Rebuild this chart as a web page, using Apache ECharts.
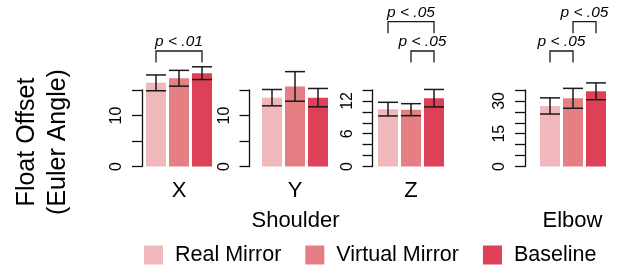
<!DOCTYPE html>
<html>
<head>
<meta charset="utf-8">
<script src="https://cdn.jsdelivr.net/npm/echarts@6/dist/echarts.min.js"></script>
<style>html,body{margin:0;padding:0;background:#fff;}#c{width:618px;height:269px;}</style>
</head>
<body>
<div id="c"></div>
<script>
// ---- data ----
const conditions = ['Real Mirror', 'Virtual Mirror', 'Baseline'];
const panels = ['X', 'Y', 'Z', ''];
const groupLabels = ['Shoulder', 'Elbow'];
const meansX = [16.4, 17.3, 18.3];
const errX   = [1.55, 1.55, 1.25];
const meansY = [13.5, 15.7, 13.5];
const errY   = [1.6, 2.9, 1.8];
const meansZ = [10.5, 10.4, 12.5];
const errZ   = [1.25, 1.1, 1.6];
const meansE = [27.7, 31.2, 34.4];
const errE   = [3.7, 4.55, 3.85];
const axisMax = [15, 15, 14, 35];
const axisStep = [5, 5, 2, 5];
const tickLabelsX = [0, 10];
const tickLabelsY = [0, 10];
const tickLabelsZ = [0, 6, 12];
const tickLabelsE = [0, 15, 30];
// significance brackets: [fromIndex, toIndex, level]
const sigX = [[0, 2, 1]];
const sigXText = ['p < .01'];
const sigY = [];
const sigYText = [];
const sigZ = [[0, 2, 2], [1, 2, 1]];
const sigZText = ['p < .05', 'p < .05'];
const sigE = [[0, 1, 1], [1, 2, 2]];
const sigEText = ['p < .05', 'p < .05'];

// ---- layout / style ----
const colors = ['#F0B8BB', '#E67F84', '#DE4058'];
const FONT = 'Liberation Sans, Arial, sans-serif';
const gridLefts = [144.5, 260.5, 376.5, 538.5];
const axisOffsets = [2.5, 11, 4, 13.5];
const GRID_TOP = 90, GRID_H = 76.5, BAND = 23;
const means = [meansX, meansY, meansZ, meansE];
const errs = [errX, errY, errZ, errE];
const tickLabels = [tickLabelsX, tickLabelsY, tickLabelsZ, tickLabelsE];
const sigs = [sigX, sigY, sigZ, sigE];
const sigTexts = [sigXText, sigYText, sigZText, sigEText];
const levelY = {1: 51, 2: 21.7};

const grids = [], xAxes = [], yAxes = [], series = [];
for (let p = 0; p < 4; p++) {
  grids.push({left: gridLefts[p], top: GRID_TOP, width: BAND * 3, height: GRID_H, containLabel: false});
  xAxes.push({
    type: 'category', gridIndex: p, data: conditions,
    axisLine: {show: false}, axisTick: {show: false}, axisLabel: {show: false},
    name: panels[p], nameLocation: 'middle', nameGap: 13,
    nameTextStyle: {fontSize: 22, color: '#000', fontFamily: FONT, verticalAlign: 'top'}
  });
  const labs = tickLabels[p];
  yAxes.push({
    type: 'value', gridIndex: p, min: 0, max: axisMax[p], interval: axisStep[p],
    offset: axisOffsets[p],
    axisLine: {show: true, lineStyle: {color: '#111', width: 1.3}},
    axisTick: {show: true, length: 10, lineStyle: {color: '#111', width: 1.3}},
    splitLine: {show: false},
    axisLabel: {
      rotate: 90, margin: 17, fontSize: 16, color: '#000', fontFamily: FONT,
      formatter: v => labs.indexOf(v) >= 0 ? String(v) : ''
    }
  });
  conditions.forEach((name, i) => {
    const d = conditions.map((_, j) => j === i ? means[p][i] : '-');
    series.push({
      type: 'bar', name: name, xAxisIndex: p, yAxisIndex: p, data: d,
      barWidth: 20, barGap: '-100%', clip: false,
      itemStyle: {color: colors[i]}, emphasis: {disabled: true}
    });
  });
  const errData = means[p].map((m, i) => [i, m, errs[p][i]]);
  series.push({
    type: 'custom', xAxisIndex: p, yAxisIndex: p, data: errData, clip: false, z: 5,
    renderItem: (params, api) => {
      const i = api.value(0), m = api.value(1), e = api.value(2);
      const t = api.coord([i, m + e]), b = api.coord([i, m - e]);
      const st = {stroke: '#1a1a1a', lineWidth: 1.5};
      const hw = 10;
      return {type: 'group', children: [
        {type: 'line', shape: {x1: t[0], y1: t[1], x2: b[0], y2: b[1]}, style: st},
        {type: 'line', shape: {x1: t[0] - hw, y1: t[1], x2: t[0] + hw, y2: t[1]}, style: st},
        {type: 'line', shape: {x1: b[0] - hw, y1: b[1], x2: b[0] + hw, y2: b[1]}, style: st}
      ]};
    }
  });
  if (sigs[p].length) {
    const texts = sigTexts[p];
    series.push({
      type: 'custom', xAxisIndex: p, yAxisIndex: p, data: sigs[p], clip: false, z: 5,
      encode: {x: 0},
      renderItem: (params, api) => {
        const a = api.value(0), b = api.value(1), lv = api.value(2);
        const x1 = api.coord([a, 0])[0], x2 = api.coord([b, 0])[0];
        const y = levelY[lv];
        const st = {stroke: '#1a1a1a', lineWidth: 1.3, fill: null};
        return {type: 'group', children: [
          {type: 'polyline', shape: {points: [[x1, y + 11.6], [x1, y], [x2, y], [x2, y + 11.6]]}, style: st},
          {type: 'text', style: {text: texts[params.dataIndex], x: (x1 + x2) / 2, y: y - 9,
            align: 'center', verticalAlign: 'middle', fontSize: 15.5, fontStyle: 'italic',
            fontFamily: FONT, fill: '#000'}}
        ]};
      }
    });
  }
}

const chart = echarts.init(document.getElementById('c'), null, {renderer: 'canvas'});
chart.setOption({
  animation: false,
  grid: grids, xAxis: xAxes, yAxis: yAxes, series: series,
  legend: {
    data: conditions, left: 144, top: 244, padding: 0, itemWidth: 19, itemHeight: 19, itemGap: 24,
    icon: 'rect', selectedMode: false,
    textStyle: {fontSize: 21.5, color: '#000', fontFamily: FONT, padding: [0, 0, 0, 7]}
  },
  graphic: [
    {type: 'text', position: [295.5, 220.5], style: {text: groupLabels[0], fontSize: 22, fontFamily: FONT,
      fill: '#000', align: 'center', verticalAlign: 'middle'}},
    {type: 'text', position: [572.5, 220.5], style: {text: groupLabels[1], fontSize: 22, fontFamily: FONT,
      fill: '#000', align: 'center', verticalAlign: 'middle'}},
    {type: 'text', position: [43, 142], rotation: Math.PI / 2,
      style: {text: 'Float Offset\n(Euler Angle)', fontSize: 25, lineHeight: 31, fontFamily: FONT,
        fill: '#000', align: 'center', verticalAlign: 'middle'}}
  ]
});
</script>
</body>
</html>
